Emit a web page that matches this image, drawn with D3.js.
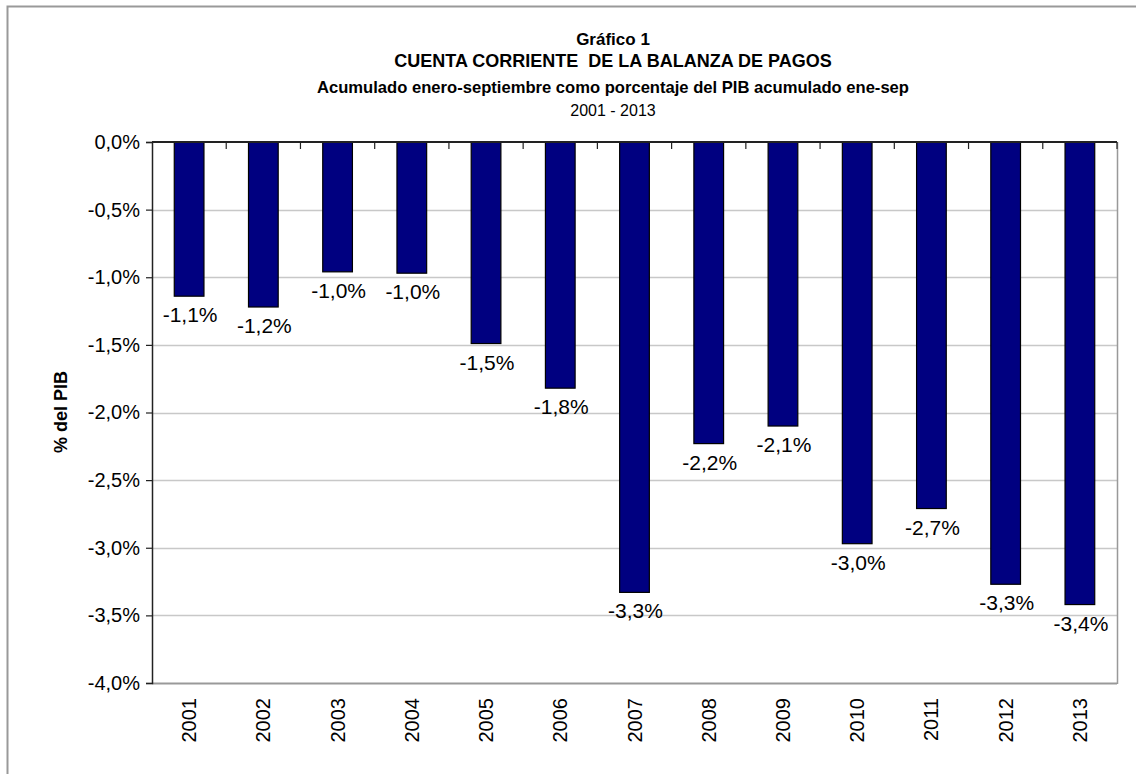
<!DOCTYPE html>
<html><head><meta charset="utf-8">
<script src="https://cdn.jsdelivr.net/npm/d3@7"></script>
<style>
body{margin:0;background:#fff;}
svg{display:block;font-family:"Liberation Sans",Arial,sans-serif;}
text{white-space:pre;}
</style></head><body>
<svg id="chart" width="1136" height="774"></svg>
<script>
const years = ["2001","2002","2003","2004","2005","2006","2007","2008","2009","2010","2011","2012","2013"];
const values = [-1.14,-1.22,-0.96,-0.97,-1.49,-1.82,-3.33,-2.23,-2.10,-2.97,-2.71,-3.27,-3.42];
const labels = ["-1,1%","-1,2%","-1,0%","-1,0%","-1,5%","-1,8%","-3,3%","-2,2%","-2,1%","-3,0%","-2,7%","-3,3%","-3,4%"];
const yTicks = [0,-0.5,-1,-1.5,-2,-2.5,-3,-3.5,-4];
const titleLines = ["Gráfico 1","CUENTA CORRIENTE  DE LA BALANZA DE PAGOS","Acumulado enero-septiembre como porcentaje del PIB acumulado ene-sep","2001 - 2013"];
const yTitle = "% del PIB";

const svg = d3.select("#chart");
const L=152, R=1117, T=142, B=683;

// outer frame
svg.append("rect").attr("x",7.5).attr("y",6.5).attr("width",1140).attr("height",800)
  .attr("fill","none").attr("stroke","#999").attr("stroke-width",2);

const x = d3.scaleBand().domain(years).range([L,R]).paddingInner(0.6).paddingOuter(0.3);
const y = d3.scaleLinear().domain([-4,0]).range([B,T]);

// gridlines
svg.append("g").selectAll("line").data(yTicks.filter(d=>d!==0)).join("line")
  .attr("x1",L).attr("x2",R).attr("y1",d=>Math.round(y(d))+0.5).attr("y2",d=>Math.round(y(d))+0.5)
  .attr("stroke",d=>d===-4?"#999":"#c8c8c8").attr("stroke-width",d=>d===-4?2:1.5);
// right border
svg.append("line").attr("x1",R+0.5).attr("x2",R+0.5).attr("y1",T).attr("y2",B+1)
  .attr("stroke","#999").attr("stroke-width",1.5);

// bars
svg.append("g").selectAll("rect").data(values).join("rect")
  .attr("x",(d,i)=>x(years[i])).attr("width",x.bandwidth())
  .attr("y",y(0)).attr("height",d=>y(d)-y(0))
  .attr("fill","#000080").attr("stroke","#000").attr("stroke-width",1.2);

// y axis
const yAxis = d3.axisLeft(y).tickValues(yTicks).tickSize(6).tickPadding(6)
  .tickFormat(d=>(d<0?"-":"")+Math.abs(d).toFixed(1).replace(".",",")+"%");
const gy = svg.append("g").attr("transform",`translate(${L},0)`).call(yAxis);
gy.select(".domain").attr("stroke","#222").attr("stroke-width",1.5);
gy.selectAll(".tick line").attr("stroke","#222").attr("stroke-width",1.2);
gy.selectAll(".tick text").attr("font-size",20).attr("fill","#000")
  .attr("font-family","'Liberation Sans',Arial,sans-serif");

// x axis line at zero with inner ticks at category boundaries
const bounds = d3.range(years.length+1).map(i=>L+i*(R-L)/years.length);
svg.append("line").attr("x1",L).attr("x2",R).attr("y1",y(0)).attr("y2",y(0))
  .attr("stroke","#222").attr("stroke-width",2);
svg.append("g").selectAll("line").data(bounds.slice(1)).join("line")
  .attr("x1",d=>d).attr("x2",d=>d).attr("y1",y(0)).attr("y2",y(0)+7)
  .attr("stroke","#222").attr("stroke-width",1.2);

// year labels rotated
svg.append("g").selectAll("text").data(years).join("text")
  .attr("transform",d=>`translate(${x(d)+x.bandwidth()/2+7},${B+15}) rotate(-90)`)
  .attr("text-anchor","end").attr("font-size",20).attr("fill","#000").text(d=>d);

// data labels
svg.append("g").selectAll("text").data(values).join("text")
  .attr("x",(d,i)=>x(years[i])+x.bandwidth()/2+1).attr("y",d=>y(d)+26)
  .attr("text-anchor","middle").attr("font-size",21).attr("fill","#000")
  .text((d,i)=>labels[i]);

// titles
const tY=[45,67,93,116];
const tW=["bold","bold","bold","normal"];
const tS=[17,18,16.6,16];
svg.append("g").selectAll("text").data(titleLines).join("text")
  .attr("x",613).attr("y",(d,i)=>tY[i]).attr("text-anchor","middle")
  .attr("font-weight",(d,i)=>tW[i]).attr("font-size",(d,i)=>tS[i]).attr("fill","#000")
  .text(d=>d);

// y title
svg.append("text").attr("transform","translate(67,412) rotate(-90)")
  .attr("text-anchor","middle").attr("font-weight","bold").attr("font-size",18).text(yTitle);
</script></body></html>
